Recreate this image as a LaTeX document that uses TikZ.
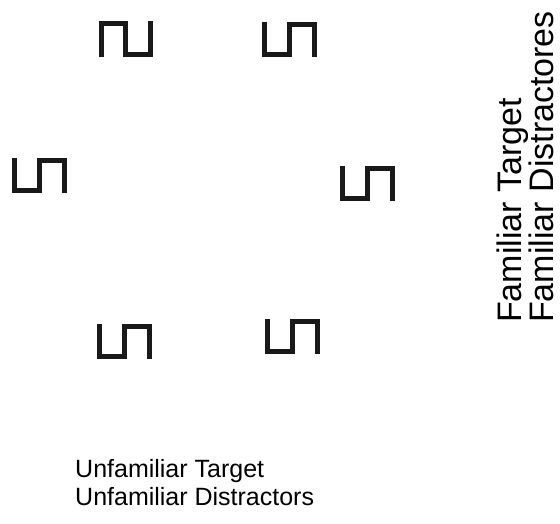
\documentclass[tikz,border=0pt]{standalone}
\usepackage{fontspec}
\setmainfont{Liberation Sans}
\usetikzlibrary{positioning}

\tikzset{
  glyph/.style={draw=black!90,line width=5pt,line cap=butt,line join=miter},
  pics/uppi/.style={code={% U followed by Pi
      \draw[glyph] (2.5,35)--(2.5,2.5)--(27.5,2.5)--(27.5,32.5)--(52.5,32.5)--(52.5,0);}},
  pics/piup/.style={code={% Pi followed by U
      \draw[glyph] (2.5,0)--(2.5,33.5)--(26.5,33.5)--(26.5,2.5)--(51.5,2.5)--(51.5,36);}},
  bottomlabel/.style={anchor=base west,inner sep=0pt,font=\fontsize{25}{28}\selectfont},
  sidelabel/.style={anchor=base west,inner sep=0pt,rotate=90,font=\fontsize{34}{38}\selectfont}
}

\begin{document}
\begin{tikzpicture}[x=1pt,y=1pt]
  \useasboundingbox (0,0) rectangle (560,523);
  % search display
  \pic at (99,466) {piup};
  \pic at (262,466) {uppi};
  \pic at (12,330) {uppi};
  \pic at (340,322) {uppi};
  \pic at (97,164) {uppi};
  \pic at (265,169) {uppi};
  % condition labels
  \node[bottomlabel] (uftarget) at (75,46) {Unfamiliar Target};
  \node[bottomlabel] (ufdistr) at (75,18) {Unfamiliar Distractors};
  \node[sidelabel] (ftarget) at (521,200) {Familiar Target};
  \node[sidelabel] (fdistr) at (553,200) {Familiar Distractores};
\end{tikzpicture}
\end{document}
